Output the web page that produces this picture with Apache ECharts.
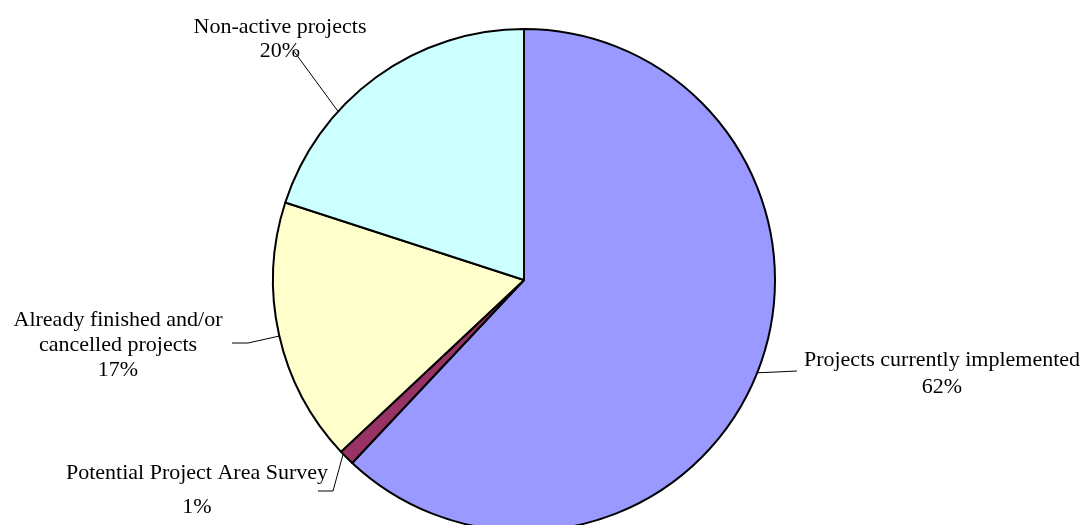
<!DOCTYPE html>
<html>
<head>
<meta charset="utf-8">
<title>Project status</title>
<script src="https://cdn.jsdelivr.net/npm/echarts@6/dist/echarts.min.js"></script>
<style>
  html, body { margin: 0; padding: 0; background: #ffffff; }
  #chart { width: 1087px; height: 525px; }
</style>
</head>
<body>
<div id="chart"></div>
<script>
// Share of projects by status (percent)
const categories = [
  'Projects currently implemented',
  'Potential Project Area Survey',
  'Already finished and/or\ncancelled projects',
  'Non-active projects'
];
const shares = [62, 1, 17, 20];
const sliceColors = ['#9999FF', '#993366', '#FFFFCC', '#CCFFFF'];

// Label placement: text block centre, and leader line (edge angle clockwise from top, elbow, end)
const labelCentres = [[942, 374], [197, 490], [118, 345], [280, 39]];
const lineEdgeAngles = [111.7, 226.1, 257.1, 312.2];
const lineElbows = [[776, 372], [333, 491], [248, 343], [293, 50]];
const lineEnds = [[797, 371], [318, 491], [232, 343], [293, 50]];
const labelLineHeights = [27, 34, 25, 24];

const CX = 524, CY = 280, R = 251;

const chart = echarts.init(document.getElementById('chart'), null, { renderer: 'canvas' });

function edgePoint(deg) {
  const a = deg * Math.PI / 180;
  return [CX + R * Math.sin(a), CY - R * Math.cos(a)];
}

chart.setOption({
  animation: false,
  backgroundColor: '#ffffff',
  series: [{
    type: 'pie',
    center: [CX, CY],
    radius: R,
    startAngle: 90,
    clockwise: true,
    percentPrecision: 0,
    avoidLabelOverlap: false,
    emphasis: { disabled: true },
    itemStyle: { borderColor: '#000000', borderWidth: 2 },
    label: {
      show: true,
      position: 'outside',
      formatter: '{b}\n{d}%',
      fontFamily: '"Liberation Serif", "Times New Roman", serif',
      fontSize: 22,
      color: '#000000',
      align: 'center'
    },
    labelLine: {
      show: true,
      smooth: false,
      lineStyle: { color: '#000000', width: 1 }
    },
    labelLayout: function (params) {
      const i = params.dataIndex;
      return {
        x: labelCentres[i][0],
        y: labelCentres[i][1],
        align: 'center',
        verticalAlign: 'middle',
        labelLinePoints: [edgePoint(lineEdgeAngles[i]), lineElbows[i], lineEnds[i]]
      };
    },
    data: categories.map(function (name, i) {
      return {
        name: name,
        value: shares[i],
        itemStyle: { color: sliceColors[i] },
        label: { lineHeight: labelLineHeights[i] }
      };
    })
  }]
});
</script>
</body>
</html>
